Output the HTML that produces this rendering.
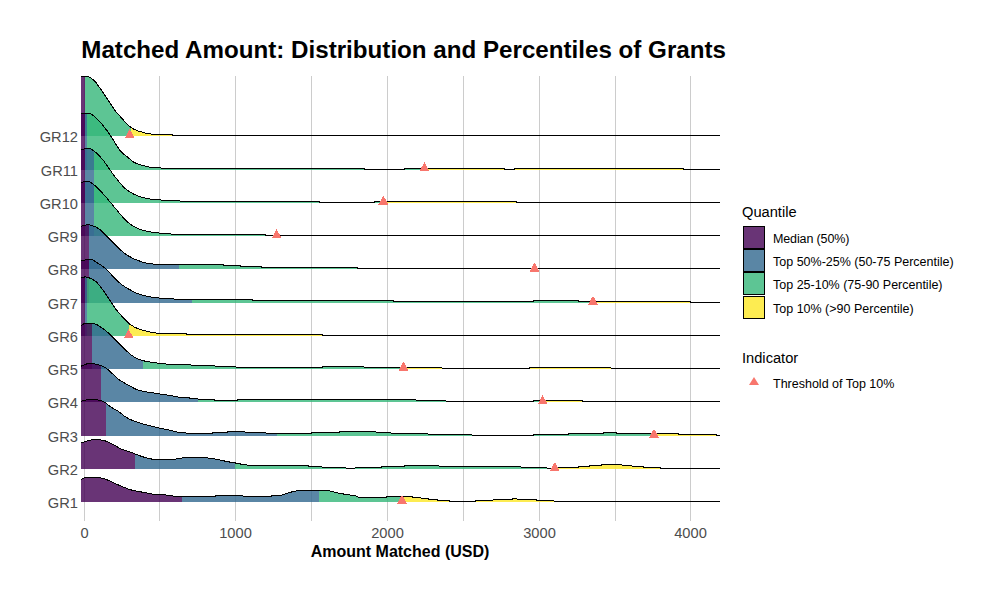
<!DOCTYPE html><html><head><meta charset="utf-8"><style>html,body{margin:0;padding:0;background:#fff;width:1000px;height:600px;overflow:hidden}svg{display:block}text{font-family:"Liberation Sans",sans-serif}</style></head><body>
<svg width="1000" height="600" viewBox="0 0 1000 600">
<rect width="1000" height="600" fill="#fff"/>
<path d="M84.5 76V521M159.5 76V521M235.5 76V521M311.5 76V521M387.5 76V521M463.5 76V521M539.5 76V521M615.5 76V521M690.5 76V521" stroke="#CCCCCC" stroke-width="1" fill="none" shape-rendering="crispEdges"/>
<defs><clipPath id="c12"><path d="M81 136L81 76.5L87.4 76.5L89 76.8L91.6 78.4L95.3 81.6L102 90.9L115 110.6L126.4 123.5L130 126.7L133 128.8L139 131.3L146 133.2L151.5 134.1L172 134.5L173 135.5L720 135.5L720 136Z"/></clipPath><clipPath id="c11"><path d="M81 170L81 113.5L89.2 113.5L90.2 113.7L92.2 114.8L95.8 117.5L101.5 123.7L106.7 130.2L110.3 135.3L118.1 147.7L120.7 151.3L123.3 153.9L128 157.5L132.7 161.5L135.8 163.2L140.4 164.9L147.5 166.7L152.5 167.5L164.6 168.2L175.7 168.5L364.5 168.5L365 169.5L404 169.5L404.5 168.5L412 168.5L504.5 168.5L505 169.5L514 169.5L514.5 168.5L683 168.5L683.5 169.5L720 169.5L720 170Z"/></clipPath><clipPath id="c10"><path d="M81 203L81 149.4L86.7 148.6L89.8 148.5L91.8 149.4L96.3 152.9L99.4 155.9L103.5 160.6L113.9 175.4L120 183.1L124.5 187.9L129 191.4L134.5 194.5L140 196.8L148.5 198.8L156.5 199.7L171.6 200.7L193.9 201.5L319.5 201.5L320 202.5L374 202.5L374.5 201.5L381.5 201.5L516.5 201.5L517 202.5L720 202.5L720 203Z"/></clipPath><clipPath id="c9"><path d="M81 236L81 182.5L86 181.4L88.5 181.3L90.6 182.2L95.3 185.8L98.9 189.3L105.5 196.5L124 218.7L128 222.5L134 226.7L138.5 228.9L145.2 230.9L154.2 232.5L164.8 233.6L176 234.3L192.5 234.8L265.5 234.9L266 235.5L720 235.5L720 236Z"/></clipPath><clipPath id="c8"><path d="M81 269L81 226.2L86 225L88.5 224.8L91.6 225.4L95.8 226.9L98.4 228.5L101 230.4L118.2 247.8L123.8 252.8L127.2 255.3L133.8 258.8L142.2 262L146.8 263.1L156.2 264.4L223.5 264.5L224 265.5L240 265.5L240.5 266.5L261 266.5L261.5 267.5L357 267.5L357.5 268.5L720 268.5L720 269Z"/></clipPath><clipPath id="c7"><path d="M81 303L81 260.6L87.5 259.6L90.5 259.4L92.1 259.7L93.6 260.5L100.8 265L105.3 268.4L118 281.5L121 284.1L127 288.2L135.5 292.7L141.6 294.9L147.8 296.4L156.2 297.8L165.2 298.5L177.2 299.2L188.2 299.5L252 299.5L252.5 300.5L393 300.5L393.5 301.5L406.5 301.5L533 301.5L533.5 300.5L578 300.5L578.5 301.5L690 301.5L690.5 302.5L720 302.5L720 303Z"/></clipPath><clipPath id="c6"><path d="M81 336L81 277.8L85 276.9L87.6 277.3L91.9 278.9L96.5 282.1L99.5 285.4L104 291.4L114 306.6L116.5 310L122.5 316.9L127.6 322.3L129.8 324.1L134.9 327.4L140.1 329.5L144.2 330.7L150.8 332.1L157.2 333.2L186.5 333.5L187 334.5L322.5 334.5L323 335.5L720 335.5L720 336Z"/></clipPath><clipPath id="c5"><path d="M81 369L81 325.6L83.2 324.1L84.2 323.8L94.2 323.8L96.3 324.3L102 327.9L106.7 331.5L110.8 335.2L122.5 347.1L127.5 351.8L131.5 355.2L135.5 357.8L140 359.8L146 361.4L158.1 363.2L167.7 364.2L176.4 364.5L190.8 364.5L191.3 365.5L214.8 365.5L215.3 366.5L235.8 366.5L236.3 367.5L322 367.5L322.5 366.5L363.7 366.5L364.2 367.5L441.7 367.5L442.2 368.5L529.2 368.5L529.7 367.5L530.2 367.5L610.7 367.5L611.2 368.5L720 368.5L720 369Z"/></clipPath><clipPath id="c4"><path d="M81 402L81 366.2L87.5 363.6L90.5 363.1L94.1 363.7L100.2 365.4L103.2 366.4L105.3 367.5L106.9 368.7L111.5 372.8L117.2 378.3L120.3 380.7L134 388.3L137 389.7L139.5 390.4L148.2 392.2L171.9 395.7L180 397.5L189 397.5L189.5 398.5L197.7 398.5L198.2 399.5L214 399.5L214.5 400.5L237.5 400.5L238 399.5L415.8 399.5L416.3 400.5L445.7 400.5L446.2 401.5L533 401.5L533.5 400.5L550 400.5L582.5 400.5L583 401.5L720 401.5L720 402Z"/></clipPath><clipPath id="c3"><path d="M81 436L81 401.2L85.5 400.1L87.5 399.8L97.2 399.8L100.2 400.3L105.3 402.5L110.5 406.9L118 411.2L125.5 416.9L130.1 419.4L134.2 421.2L141.2 423.5L156.2 427.4L171.8 430.6L178.5 432.4L185.7 432.5L186.2 433.5L212 433.5L212.5 432.5L227.2 432.5L227.7 431.5L244.8 431.5L245.3 432.5L265.8 432.5L266.3 433.5L280.9 433.5L311.2 433.5L311.7 432.5L339.3 432.5L339.8 431.5L375.7 431.5L376.2 432.5L390.7 432.5L391.2 433.5L427.8 433.5L428.3 434.5L471.7 434.5L472.2 435.5L533.2 435.5L533.7 434.5L568.2 434.5L568.7 433.5L603 433.5L603.5 432.5L616.5 432.5L617 433.5L678 433.5L678.5 434.5L716.2 434.5L716.7 435.5L720 435.5L720 436Z"/></clipPath><clipPath id="c2"><path d="M81 469L81 443.1L87 440.9L93.5 439.5L98.1 439.5L104.2 440.6L106.8 441.4L109.4 442.6L114 444.9L119.5 448.3L122.5 449.6L133 453.1L142 456.6L148.5 458.4L152.5 459.2L155.5 459.4L172.8 459.4L180 458.5L183.7 457.5L207.7 457.5L208.2 458.5L214.8 458.5L215.3 459.5L219.7 459.5L220.2 460.5L224.2 460.5L224.7 461.5L229.5 461.5L230 462.5L235.2 462.5L235.7 463.5L240 463.5L240.5 464.5L246.7 464.5L247.2 465.5L308.2 465.5L308.7 466.5L321.7 466.5L322.2 467.5L345.7 467.5L346.2 468.5L354.7 468.5L355.2 467.5L381 467.5L381.5 466.5L404.2 466.5L404.7 465.5L407.2 465.5L438.7 465.5L439.2 466.5L520.8 466.5L521.3 467.5L546.7 467.5L547.2 468.5L552 468.5L558.2 467.5L578.2 467.5L578.7 466.5L589.2 466.5L589.7 465.5L601.2 465.5L601.7 464.5L621.7 464.5L622.2 465.5L631.8 465.5L632.3 466.5L643.2 466.5L643.7 467.5L660 467.5L660.5 468.5L720 468.5L720 469Z"/></clipPath><clipPath id="c1"><path d="M81 502L81 479.4L84.7 477.7L86.2 477.3L96.8 477.2L99.2 477.5L106.3 479.4L114.5 483.3L124 487.4L128.5 489.1L132.5 490.3L152 494L166 495L177 496.5L215.2 496.5L215.7 495.5L242.7 495.5L243.2 496.5L271.2 496.5L271.7 495.5L278.7 495.5L280.7 495.3L283.7 494.5L290.7 492.2L298.2 490.5L326.2 490.5L329.8 490.9L338.9 493.3L354 495.6L356.5 496.2L359 497.3L360 497.5L386 497.5L386.5 496.5L412 496.5L412.5 497.5L420.7 497.5L421.2 498.5L428.2 498.5L428.7 499.5L437.2 499.5L437.7 500.5L449.2 500.5L449.7 501.5L475.5 501.5L476 500.5L492.8 500.5L493.3 499.5L512.3 499.5L512.8 498.5L516.8 498.5L517.3 499.5L536.4 499.5L536.9 500.5L553.7 500.5L554.2 501.5L720 501.5L720 502Z"/></clipPath></defs>
<g clip-path="url(#c12)" fill-opacity="0.8" shape-rendering="crispEdges"><rect x="81" y="60" width="4" height="76" fill="#440154"/><rect x="85" y="60" width="46" height="76" fill="#35B779"/><rect x="131" y="60" width="589" height="76" fill="#FDE725"/></g>
<path d="M81 76.5L87.4 76.5L89 76.8L91.6 78.4L95.3 81.6L102 90.9L115 110.6L126.4 123.5L130 126.7L133 128.8L139 131.3L146 133.2L151.5 134.1L172 134.5L173 135.5L720 135.5" fill="none" stroke="#000" stroke-width="1" shape-rendering="crispEdges"/>
<g clip-path="url(#c11)" fill-opacity="0.8" shape-rendering="crispEdges"><rect x="81" y="60" width="4.2" height="110" fill="#440154"/><rect x="85.2" y="60" width="1.8" height="110" fill="#31688E"/><rect x="87" y="60" width="338" height="110" fill="#35B779"/><rect x="425" y="60" width="295" height="110" fill="#FDE725"/></g>
<path d="M81 113.5L89.2 113.5L90.2 113.7L92.2 114.8L95.8 117.5L101.5 123.7L106.7 130.2L110.3 135.3L118.1 147.7L120.7 151.3L123.3 153.9L128 157.5L132.7 161.5L135.8 163.2L140.4 164.9L147.5 166.7L152.5 167.5L164.6 168.2L175.7 168.5L364.5 168.5L365 169.5L404 169.5L404.5 168.5L412 168.5L504.5 168.5L505 169.5L514 169.5L514.5 168.5L683 168.5L683.5 169.5L720 169.5" fill="none" stroke="#000" stroke-width="1" shape-rendering="crispEdges"/>
<g clip-path="url(#c10)" fill-opacity="0.8" shape-rendering="crispEdges"><rect x="81" y="60" width="4.2" height="143" fill="#440154"/><rect x="85.2" y="60" width="8.8" height="143" fill="#31688E"/><rect x="94" y="60" width="291" height="143" fill="#35B779"/><rect x="385" y="60" width="335" height="143" fill="#FDE725"/></g>
<path d="M81 149.4L86.7 148.6L89.8 148.5L91.8 149.4L96.3 152.9L99.4 155.9L103.5 160.6L113.9 175.4L120 183.1L124.5 187.9L129 191.4L134.5 194.5L140 196.8L148.5 198.8L156.5 199.7L171.6 200.7L193.9 201.5L319.5 201.5L320 202.5L374 202.5L374.5 201.5L381.5 201.5L516.5 201.5L517 202.5L720 202.5" fill="none" stroke="#000" stroke-width="1" shape-rendering="crispEdges"/>
<g clip-path="url(#c9)" fill-opacity="0.8" shape-rendering="crispEdges"><rect x="81" y="60" width="4.2" height="176" fill="#440154"/><rect x="85.2" y="60" width="9" height="176" fill="#31688E"/><rect x="94.2" y="60" width="182.8" height="176" fill="#35B779"/><rect x="277" y="60" width="443" height="176" fill="#FDE725"/></g>
<path d="M81 182.5L86 181.4L88.5 181.3L90.6 182.2L95.3 185.8L98.9 189.3L105.5 196.5L124 218.7L128 222.5L134 226.7L138.5 228.9L145.2 230.9L154.2 232.5L164.8 233.6L176 234.3L192.5 234.8L265.5 234.9L266 235.5L720 235.5" fill="none" stroke="#000" stroke-width="1" shape-rendering="crispEdges"/>
<g clip-path="url(#c8)" fill-opacity="0.8" shape-rendering="crispEdges"><rect x="81" y="60" width="8" height="209" fill="#440154"/><rect x="89" y="60" width="90.2" height="209" fill="#31688E"/><rect x="179.2" y="60" width="355.2" height="209" fill="#35B779"/><rect x="534.5" y="60" width="185.5" height="209" fill="#FDE725"/></g>
<path d="M81 226.2L86 225L88.5 224.8L91.6 225.4L95.8 226.9L98.4 228.5L101 230.4L118.2 247.8L123.8 252.8L127.2 255.3L133.8 258.8L142.2 262L146.8 263.1L156.2 264.4L223.5 264.5L224 265.5L240 265.5L240.5 266.5L261 266.5L261.5 267.5L357 267.5L357.5 268.5L720 268.5" fill="none" stroke="#000" stroke-width="1" shape-rendering="crispEdges"/>
<g clip-path="url(#c7)" fill-opacity="0.8" shape-rendering="crispEdges"><rect x="81" y="60" width="8" height="243" fill="#440154"/><rect x="89" y="60" width="103.4" height="243" fill="#31688E"/><rect x="192.4" y="60" width="400.6" height="243" fill="#35B779"/><rect x="593" y="60" width="127" height="243" fill="#FDE725"/></g>
<path d="M81 260.6L87.5 259.6L90.5 259.4L92.1 259.7L93.6 260.5L100.8 265L105.3 268.4L118 281.5L121 284.1L127 288.2L135.5 292.7L141.6 294.9L147.8 296.4L156.2 297.8L165.2 298.5L177.2 299.2L188.2 299.5L252 299.5L252.5 300.5L393 300.5L393.5 301.5L406.5 301.5L533 301.5L533.5 300.5L578 300.5L578.5 301.5L690 301.5L690.5 302.5L720 302.5" fill="none" stroke="#000" stroke-width="1" shape-rendering="crispEdges"/>
<g clip-path="url(#c6)" fill-opacity="0.8" shape-rendering="crispEdges"><rect x="81" y="60" width="4.2" height="276" fill="#440154"/><rect x="85.2" y="60" width="1.8" height="276" fill="#31688E"/><rect x="87" y="60" width="42" height="276" fill="#35B779"/><rect x="129" y="60" width="591" height="276" fill="#FDE725"/></g>
<path d="M81 277.8L85 276.9L87.6 277.3L91.9 278.9L96.5 282.1L99.5 285.4L104 291.4L114 306.6L116.5 310L122.5 316.9L127.6 322.3L129.8 324.1L134.9 327.4L140.1 329.5L144.2 330.7L150.8 332.1L157.2 333.2L186.5 333.5L187 334.5L322.5 334.5L323 335.5L720 335.5" fill="none" stroke="#000" stroke-width="1" shape-rendering="crispEdges"/>
<g clip-path="url(#c5)" fill-opacity="0.8" shape-rendering="crispEdges"><rect x="81" y="60" width="11.1" height="309" fill="#440154"/><rect x="92.1" y="60" width="50.9" height="309" fill="#31688E"/><rect x="143" y="60" width="260.5" height="309" fill="#35B779"/><rect x="403.5" y="60" width="316.5" height="309" fill="#FDE725"/></g>
<path d="M81 325.6L83.2 324.1L84.2 323.8L94.2 323.8L96.3 324.3L102 327.9L106.7 331.5L110.8 335.2L122.5 347.1L127.5 351.8L131.5 355.2L135.5 357.8L140 359.8L146 361.4L158.1 363.2L167.7 364.2L176.4 364.5L190.8 364.5L191.3 365.5L214.8 365.5L215.3 366.5L235.8 366.5L236.3 367.5L322 367.5L322.5 366.5L363.7 366.5L364.2 367.5L441.7 367.5L442.2 368.5L529.2 368.5L529.7 367.5L530.2 367.5L610.7 367.5L611.2 368.5L720 368.5" fill="none" stroke="#000" stroke-width="1" shape-rendering="crispEdges"/>
<g clip-path="url(#c4)" fill-opacity="0.8" shape-rendering="crispEdges"><rect x="81" y="60" width="20.1" height="342" fill="#440154"/><rect x="101.1" y="60" width="96.6" height="342" fill="#31688E"/><rect x="197.7" y="60" width="344.9" height="342" fill="#35B779"/><rect x="542.6" y="60" width="177.4" height="342" fill="#FDE725"/></g>
<path d="M81 366.2L87.5 363.6L90.5 363.1L94.1 363.7L100.2 365.4L103.2 366.4L105.3 367.5L106.9 368.7L111.5 372.8L117.2 378.3L120.3 380.7L134 388.3L137 389.7L139.5 390.4L148.2 392.2L171.9 395.7L180 397.5L189 397.5L189.5 398.5L197.7 398.5L198.2 399.5L214 399.5L214.5 400.5L237.5 400.5L238 399.5L415.8 399.5L416.3 400.5L445.7 400.5L446.2 401.5L533 401.5L533.5 400.5L550 400.5L582.5 400.5L583 401.5L720 401.5" fill="none" stroke="#000" stroke-width="1" shape-rendering="crispEdges"/>
<g clip-path="url(#c3)" fill-opacity="0.8" shape-rendering="crispEdges"><rect x="81" y="60" width="25.1" height="376" fill="#440154"/><rect x="106.1" y="60" width="171.1" height="376" fill="#31688E"/><rect x="277.2" y="60" width="376.8" height="376" fill="#35B779"/><rect x="654" y="60" width="66" height="376" fill="#FDE725"/></g>
<path d="M81 401.2L85.5 400.1L87.5 399.8L97.2 399.8L100.2 400.3L105.3 402.5L110.5 406.9L118 411.2L125.5 416.9L130.1 419.4L134.2 421.2L141.2 423.5L156.2 427.4L171.8 430.6L178.5 432.4L185.7 432.5L186.2 433.5L212 433.5L212.5 432.5L227.2 432.5L227.7 431.5L244.8 431.5L245.3 432.5L265.8 432.5L266.3 433.5L280.9 433.5L311.2 433.5L311.7 432.5L339.3 432.5L339.8 431.5L375.7 431.5L376.2 432.5L390.7 432.5L391.2 433.5L427.8 433.5L428.3 434.5L471.7 434.5L472.2 435.5L533.2 435.5L533.7 434.5L568.2 434.5L568.7 433.5L603 433.5L603.5 432.5L616.5 432.5L617 433.5L678 433.5L678.5 434.5L716.2 434.5L716.7 435.5L720 435.5" fill="none" stroke="#000" stroke-width="1" shape-rendering="crispEdges"/>
<g clip-path="url(#c2)" fill-opacity="0.8" shape-rendering="crispEdges"><rect x="81" y="60" width="53.5" height="409" fill="#440154"/><rect x="134.5" y="60" width="100.7" height="409" fill="#31688E"/><rect x="235.2" y="60" width="319.6" height="409" fill="#35B779"/><rect x="554.8" y="60" width="165.2" height="409" fill="#FDE725"/></g>
<path d="M81 443.1L87 440.9L93.5 439.5L98.1 439.5L104.2 440.6L106.8 441.4L109.4 442.6L114 444.9L119.5 448.3L122.5 449.6L133 453.1L142 456.6L148.5 458.4L152.5 459.2L155.5 459.4L172.8 459.4L180 458.5L183.7 457.5L207.7 457.5L208.2 458.5L214.8 458.5L215.3 459.5L219.7 459.5L220.2 460.5L224.2 460.5L224.7 461.5L229.5 461.5L230 462.5L235.2 462.5L235.7 463.5L240 463.5L240.5 464.5L246.7 464.5L247.2 465.5L308.2 465.5L308.7 466.5L321.7 466.5L322.2 467.5L345.7 467.5L346.2 468.5L354.7 468.5L355.2 467.5L381 467.5L381.5 466.5L404.2 466.5L404.7 465.5L407.2 465.5L438.7 465.5L439.2 466.5L520.8 466.5L521.3 467.5L546.7 467.5L547.2 468.5L552 468.5L558.2 467.5L578.2 467.5L578.7 466.5L589.2 466.5L589.7 465.5L601.2 465.5L601.7 464.5L621.7 464.5L622.2 465.5L631.8 465.5L632.3 466.5L643.2 466.5L643.7 467.5L660 467.5L660.5 468.5L720 468.5" fill="none" stroke="#000" stroke-width="1" shape-rendering="crispEdges"/>
<g clip-path="url(#c1)" fill-opacity="0.8" shape-rendering="crispEdges"><rect x="81" y="60" width="100.5" height="442" fill="#440154"/><rect x="181.5" y="60" width="137.7" height="442" fill="#31688E"/><rect x="319.2" y="60" width="83.1" height="442" fill="#35B779"/><rect x="402.3" y="60" width="317.7" height="442" fill="#FDE725"/></g>
<path d="M81 479.4L84.7 477.7L86.2 477.3L96.8 477.2L99.2 477.5L106.3 479.4L114.5 483.3L124 487.4L128.5 489.1L132.5 490.3L152 494L166 495L177 496.5L215.2 496.5L215.7 495.5L242.7 495.5L243.2 496.5L271.2 496.5L271.7 495.5L278.7 495.5L280.7 495.3L283.7 494.5L290.7 492.2L298.2 490.5L326.2 490.5L329.8 490.9L338.9 493.3L354 495.6L356.5 496.2L359 497.3L360 497.5L386 497.5L386.5 496.5L412 496.5L412.5 497.5L420.7 497.5L421.2 498.5L428.2 498.5L428.7 499.5L437.2 499.5L437.7 500.5L449.2 500.5L449.7 501.5L475.5 501.5L476 500.5L492.8 500.5L493.3 499.5L512.3 499.5L512.8 498.5L516.8 498.5L517.3 499.5L536.4 499.5L536.9 500.5L553.7 500.5L554.2 501.5L720 501.5" fill="none" stroke="#000" stroke-width="1" shape-rendering="crispEdges"/>
<path d="M129.7 129.1L134.7 138.2L124.7 138.2ZM424.4 162.1L429.4 171.2L419.4 171.2ZM383.4 195.6L388.4 204.7L378.4 204.7ZM276.6 229.1L281.6 238.2L271.6 238.2ZM534.5 262.6L539.5 271.7L529.5 271.7ZM593 295.6L598 304.7L588 304.7ZM128.6 329.1L133.6 338.2L123.6 338.2ZM403.5 361.6L408.5 370.7L398.5 370.7ZM542.6 395.1L547.6 404.2L537.6 404.2ZM654 428.6L659 437.7L649 437.7ZM554.8 462.1L559.8 471.2L549.8 471.2ZM402 494.6L407 503.7L397 503.7Z" fill="#F8766D" shape-rendering="crispEdges"/>
<text x="78" y="507.8" font-size="14.67" fill="#4D4D4D" text-anchor="end">GR1</text>
<text x="78" y="474.8" font-size="14.67" fill="#4D4D4D" text-anchor="end">GR2</text>
<text x="78" y="441.8" font-size="14.67" fill="#4D4D4D" text-anchor="end">GR3</text>
<text x="78" y="407.8" font-size="14.67" fill="#4D4D4D" text-anchor="end">GR4</text>
<text x="78" y="374.8" font-size="14.67" fill="#4D4D4D" text-anchor="end">GR5</text>
<text x="78" y="341.8" font-size="14.67" fill="#4D4D4D" text-anchor="end">GR6</text>
<text x="78" y="308.8" font-size="14.67" fill="#4D4D4D" text-anchor="end">GR7</text>
<text x="78" y="274.8" font-size="14.67" fill="#4D4D4D" text-anchor="end">GR8</text>
<text x="78" y="241.8" font-size="14.67" fill="#4D4D4D" text-anchor="end">GR9</text>
<text x="78" y="208.8" font-size="14.67" fill="#4D4D4D" text-anchor="end">GR10</text>
<text x="78" y="175.8" font-size="14.67" fill="#4D4D4D" text-anchor="end">GR11</text>
<text x="78" y="141.8" font-size="14.67" fill="#4D4D4D" text-anchor="end">GR12</text>
<text x="84.5" y="537.6" font-size="14.67" fill="#4D4D4D" text-anchor="middle">0</text>
<text x="235.5" y="537.6" font-size="14.67" fill="#4D4D4D" text-anchor="middle">1000</text>
<text x="387.5" y="537.6" font-size="14.67" fill="#4D4D4D" text-anchor="middle">2000</text>
<text x="539.5" y="537.6" font-size="14.67" fill="#4D4D4D" text-anchor="middle">3000</text>
<text x="690.5" y="537.6" font-size="14.67" fill="#4D4D4D" text-anchor="middle">4000</text>
<text x="400" y="557.4" font-size="16" font-weight="bold" fill="#000" text-anchor="middle">Amount Matched (USD)</text>
<text x="81.3" y="57.6" font-size="24.17" font-weight="bold" fill="#000">Matched Amount: Distribution and Percentiles of Grants</text>
<text x="742" y="216.6" font-size="14.67" fill="#000">Quantile</text>
<rect x="743.5" y="226.5" width="21" height="22" fill="#440154" fill-opacity="0.8" stroke="#000" stroke-width="1" shape-rendering="crispEdges"/>
<text x="773" y="242.6" font-size="12.5" fill="#000" letter-spacing="-0.13">Median (50%)</text>
<rect x="743.5" y="249.5" width="21" height="22" fill="#31688E" fill-opacity="0.8" stroke="#000" stroke-width="1" shape-rendering="crispEdges"/>
<text x="773" y="265.6" font-size="12.5" fill="#000">Top 50%-25% (50-75 Percentile)</text>
<rect x="743.5" y="272.5" width="21" height="22" fill="#35B779" fill-opacity="0.8" stroke="#000" stroke-width="1" shape-rendering="crispEdges"/>
<text x="773" y="288.6" font-size="12.5" fill="#000">Top 25-10% (75-90 Percentile)</text>
<rect x="743.5" y="296.5" width="21" height="22" fill="#FDE725" fill-opacity="0.8" stroke="#000" stroke-width="1" shape-rendering="crispEdges"/>
<text x="773" y="312.6" font-size="12.5" fill="#000">Top 10% (&gt;90 Percentile)</text>
<text x="742" y="363" font-size="14.67" fill="#000">Indicator</text>
<path d="M754 377L759 385L749 385Z" fill="#F8766D"/>
<text x="773" y="388" font-size="12.5" fill="#000">Threshold of Top 10%</text>
</svg></body></html>
